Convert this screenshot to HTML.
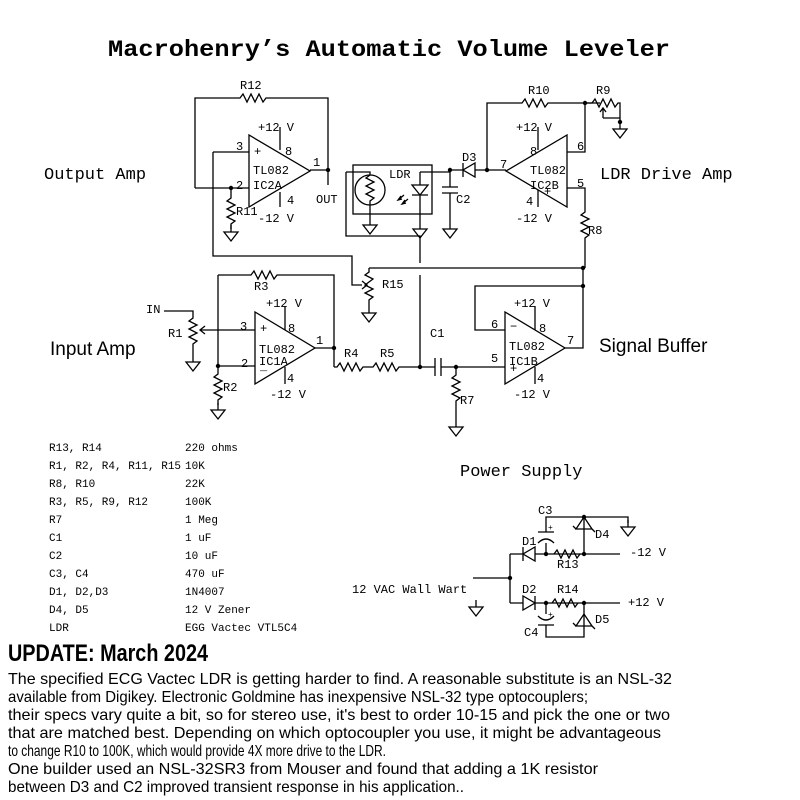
<!DOCTYPE html>
<html><head><meta charset="utf-8"><style>
html,body{margin:0;padding:0;background:#fff;}
svg{display:block;}
.m{font-family:"Liberation Mono",monospace;font-size:12px;fill:#000;}
.w{fill:none;stroke:#000;stroke-width:1.3;}
</style></head><body>
<svg width="800" height="800" viewBox="0 0 800 800" xmlns="http://www.w3.org/2000/svg">
<defs>
<g id="gnd"><path d="M0,0 v7 M-7,7 h14 l-7,9 z" fill="none" stroke="#000" stroke-width="1.3"/></g>
</defs>
<text x="108" y="56" textLength="562" lengthAdjust="spacingAndGlyphs" style="font-family:'Liberation Mono',monospace;font-weight:bold;font-size:23px">Macrohenry’s Automatic Volume Leveler</text>

<g class="w">
<path d="M249,135 L249,207 L310,171 Z"/>
<path d="M280,127 v23 M280,192 v15"/>
<path d="M213,152 h36 M213,152 V256 H352 V285 H362"/>
<path d="M362,281 l5,4 l-5,4"/>
<path d="M195,188 H249 M195,188 V98 H240 l3,-4 l4,8 l4,-8 l4,8 l4,-8 l4,8 l3,-4 H328 V185"/>
<path d="M310,170 H328"/>
<path d="M231,188 v10 l-4,3 l8,4 l-8,4 l8,4 l-8,4 l8,4 l-4,3 v5"/>
<rect x="353" y="165" width="79" height="49"/>
<path d="M346,172 H370 V175 M346,172 V236 H420 V263 M420,275 V367"/>
<circle cx="370" cy="190" r="15"/>
<path d="M370,175 l-4,3 l8,4 l-8,4 l8,4 l-8,4 l8,4 l-4,3 V218"/>
<path d="M420,172 H450 M420,172 V185 M420,195 V222"/>
<path d="M412,185 h16 l-8,10 z M412,195 h16"/>
<path d="M404,195 l-6,5 M401,196 l-3,4 l4,-1 M408,199 l-6,5 M405,200 l-3,4 l4,-1"/>
<path d="M450,170 V187 M442,187 h16 M442,193 h16 M450,193 V222"/>
<path d="M450,170 H463 M475,170 H506 M463,163 v14 M475,163 v14 l-12,-7 z"/>
<path d="M487,170 V103 H522 l3,-4 l4,8 l4,-8 l4,8 l4,-8 l4,8 l3,-4 H600"/>
<path d="M567,135 L567,207 L506,171 Z"/>
<path d="M538,127 v23 M538,190 v17"/>
<path d="M567,152 H585 V103"/>
<path d="M567,188 H585 V212 l-4,3 l8,4 l-8,4 l8,4 l-8,4 l8,4 l-4,3 V268"/>
<path d="M585,103 H592 l3,-4 l4,8 l4,-8 l4,8 l4,-8 l4,8 l3,-4 H620 V122"/>
<path d="M603,118 V108 M600,112 l3,-4 l3,4 M603,118 H620"/>
<path d="M369,268 H583 M369,268 V272 l-4,3 l8,4 l-4,3 l0,0 l-4,3 l8,4 l-8,4 l8,4 l-4,3 V306"/>
<path d="M583,268 V286"/>
<path d="M255,312 L255,384 L315,348 Z"/>
<path d="M285,306 v24 M285,367 v17"/>
<path d="M225,330 H255 M218,366 H255"/>
<path d="M218,275 V366 M218,275 H251 l3,-4 l4,8 l4,-8 l4,8 l4,-8 l4,8 l3,-4 H334 V367"/>
<path d="M315,348 H334"/>
<path d="M218,366 v8 l-4,3 l8,4 l-8,4 l8,4 l-8,4 l8,4 l-4,3 v5"/>
<path d="M164,311 H193 V318 l-4,3 l8,4 l-8,4 l8,4 l-8,4 l8,4 l-4,3 V355"/>
<path d="M225,330 H200 M205,326 l-5,4 l5,4"/>
<path d="M334,367 H337 l3,-4 l4,8 l4,-8 l4,8 l4,-8 l4,8 l3,-4 H373 l3,-4 l4,8 l4,-8 l4,8 l4,-8 l4,8 l3,-4 H435"/>
<path d="M435,358 v18 M441,358 v18 M441,367 H505"/>
<path d="M456,367 v8 l-4,3 l8,4 l-8,4 l8,4 l-8,4 l8,4 l-4,3 V420"/>
<path d="M505,312 L505,384 L565,348 Z"/>
<path d="M535,306 v24 M535,367 v17"/>
<path d="M505,330 H475 V286 H583 M565,348 H583 V286"/>
<path d="M473,578 H510 M510,554 V603 M510,554 H523 M535,554 H620 M510,603 H523 M535,603 H620"/>
<path d="M523,547 v14 M535,547 v14 l-12,-7 z"/>
<path d="M535,596 v14 M523,596 v14 l12,-7 z"/>
<path d="M554,554 l3,-4 l4,8 l4,-8 l4,8 l4,-8 l4,8 l3,-4"/>
<path d="M552,603 l3,-4 l4,8 l4,-8 l4,8 l4,-8 l4,8 l3,-4"/>
<path d="M546,554 V543 M538,532 h16 M538,543 q8,-8 16,0 M546,532 V517 H628 V523"/>
<path d="M584,517 V554 M576,529 l8,-12 l8,12 z M576,529 h16 M576,529 l-3,-3 M592,529 l3,3" />
<path d="M546,603 V614 M538,625 h16 M538,616 q8,8 16,0 M546,625 V637 H584 V603"/>
<path d="M576,626 l8,-12 l8,12 z M576,626 h16 M576,626 l-3,-3 M592,626 l3,3"/>
</g>
<g fill="#000">
<circle cx="328" cy="170" r="2.2"/><circle cx="231" cy="188" r="2.2"/><circle cx="450" cy="170" r="2.2"/>
<circle cx="487" cy="170" r="2.2"/><circle cx="585" cy="103" r="2.2"/><circle cx="620" cy="122" r="2.2"/>
<circle cx="583" cy="268" r="2.2"/><circle cx="583" cy="286" r="2.2"/><circle cx="334" cy="348" r="2.2"/>
<circle cx="218" cy="366" r="2.2"/><circle cx="420" cy="367" r="2.2"/><circle cx="456" cy="367" r="2.2"/>
<circle cx="510" cy="578" r="2.2"/><circle cx="546" cy="554" r="2.2"/><circle cx="584" cy="554" r="2.2"/>
<circle cx="584" cy="517" r="2.2"/><circle cx="546" cy="603" r="2.2"/><circle cx="584" cy="603" r="2.2"/>
</g>
<use href="#gnd" x="231" y="225"/><use href="#gnd" x="370" y="218"/><use href="#gnd" x="420" y="222"/>
<use href="#gnd" x="450" y="222"/><use href="#gnd" x="620" y="122"/><use href="#gnd" x="369" y="306"/>
<use href="#gnd" x="193" y="355"/><use href="#gnd" x="218" y="403"/><use href="#gnd" x="456" y="420"/>
<use href="#gnd" x="628" y="520"/><use href="#gnd" x="476" y="600"/>

<g class="m">
<text x="240" y="89">R12</text>
<text x="258" y="131">+12 V</text><text x="236" y="150">3</text><text x="254" y="155">+</text><text x="285" y="155">8</text>
<text x="313" y="166">1</text><text x="236" y="189">2</text><text x="253" y="174">TL082</text><text x="253" y="189">IC2A</text>
<text x="287" y="204">4</text><text x="258" y="222">-12 V</text><text x="316" y="203">OUT</text><text x="236" y="215">R11</text>
<text x="389" y="178">LDR</text><text x="456" y="203">C2</text><text x="462" y="161">D3</text>
<text x="528" y="94">R10</text><text x="596" y="94">R9</text>
<text x="516" y="131">+12 V</text><text x="530" y="155">8</text><text x="500" y="168">7</text><text x="577" y="150">6</text>
<text x="530" y="174">TL082</text><text x="530" y="189">IC2B</text><text x="544" y="195">+</text><text x="577" y="187">5</text>
<text x="526" y="205">4</text><text x="516" y="222">-12 V</text><text x="588" y="234">R8</text>
<text x="382" y="288">R15</text><text x="254" y="290">R3</text>
<text x="146" y="313">IN</text><text x="168" y="337">R1</text>
<text x="266" y="307">+12 V</text><text x="240" y="330">3</text><text x="260" y="332">+</text><text x="288" y="332">8</text>
<text x="316" y="344">1</text><text x="241" y="367">2</text><text x="259" y="353">TL082</text><text x="259" y="365">IC1A</text>
<text x="260" y="370">_</text><text x="287" y="382">4</text><text x="270" y="398">-12 V</text><text x="223" y="391">R2</text>
<text x="344" y="357">R4</text><text x="380" y="357">R5</text><text x="430" y="337">C1</text><text x="460" y="404">R7</text>
<text x="514" y="307">+12 V</text><text x="491" y="328">6</text><text x="510" y="330">−</text><text x="539" y="332">8</text>
<text x="567" y="344">7</text><text x="509" y="350">TL082</text><text x="509" y="365">IC1B</text><text x="491" y="362">5</text>
<text x="510" y="372">+</text><text x="537" y="382">4</text><text x="514" y="398">-12 V</text>
<text x="538" y="514">C3</text><text x="548" y="530" style="font-size:8px">+</text><text x="595" y="538">D4</text>
<text x="522" y="545">D1</text><text x="557" y="568">R13</text><text x="630" y="556">-12 V</text>
<text x="352" y="593">12 VAC Wall Wart</text>
<text x="522" y="593">D2</text><text x="557" y="593">R14</text><text x="628" y="606">+12 V</text>
<text x="548" y="617" style="font-size:8px">+</text><text x="595" y="623">D5</text><text x="524" y="636">C4</text>
</g>
<g style="font-family:'Liberation Mono',monospace;font-size:17px">
<text x="44" y="179">Output Amp</text><text x="600" y="179">LDR Drive Amp</text><text x="460" y="476">Power Supply</text>
</g>
<g style="font-family:'Liberation Sans',sans-serif;font-size:19px">
<text x="50" y="355">Input Amp</text><text x="599" y="352">Signal Buffer</text>
</g>
<g class="m" style="font-size:11px">
<text x="49" y="451">R13, R14</text><text x="185" y="451">220 ohms</text>
<text x="49" y="469">R1, R2, R4, R11, R15</text><text x="185" y="469">10K</text>
<text x="49" y="487">R8, R10</text><text x="185" y="487">22K</text>
<text x="49" y="505">R3, R5, R9, R12</text><text x="185" y="505">100K</text>
<text x="49" y="523">R7</text><text x="185" y="523">1 Meg</text>
<text x="49" y="541">C1</text><text x="185" y="541">1  uF</text>
<text x="49" y="559">C2</text><text x="185" y="559">10 uF</text>
<text x="49" y="577">C3, C4</text><text x="185" y="577">470 uF</text>
<text x="49" y="595">D1, D2,D3</text><text x="185" y="595">1N4007</text>
<text x="49" y="613">D4, D5</text><text x="185" y="613">12 V Zener</text>
<text x="49" y="631">LDR</text><text x="185" y="631">EGG Vactec  VTL5C4</text>
</g>
<text x="8" y="661" textLength="200" lengthAdjust="spacingAndGlyphs" style="font-family:'Liberation Sans',sans-serif;font-weight:bold;font-size:24px">UPDATE: March 2024</text>
<g style="font-family:'Liberation Sans',sans-serif;font-size:16px">
<text x="8" y="684" textLength="664" lengthAdjust="spacingAndGlyphs">The specified ECG Vactec LDR is getting harder to find. A reasonable substitute is an NSL-32</text>
<text x="8" y="702" textLength="580" lengthAdjust="spacingAndGlyphs">available from Digikey. Electronic Goldmine has inexpensive NSL-32 type optocouplers;</text>
<text x="8" y="720" textLength="662" lengthAdjust="spacingAndGlyphs">their specs vary quite a bit, so for stereo use, it's best to order 10-15 and pick the one or two</text>
<text x="8" y="738" textLength="653" lengthAdjust="spacingAndGlyphs">that are matched best.  Depending on which optocoupler you use, it might be advantageous</text>
<text x="8" y="756" textLength="378" lengthAdjust="spacingAndGlyphs">to change R10 to 100K, which would provide 4X more drive to the LDR.</text>
<text x="8" y="774" textLength="590" lengthAdjust="spacingAndGlyphs">One builder used an NSL-32SR3 from Mouser and found that adding a 1K resistor</text>
<text x="8" y="792" textLength="456" lengthAdjust="spacingAndGlyphs">between D3 and C2 improved transient response in his application..</text>
</g>
</svg>
</body></html>
